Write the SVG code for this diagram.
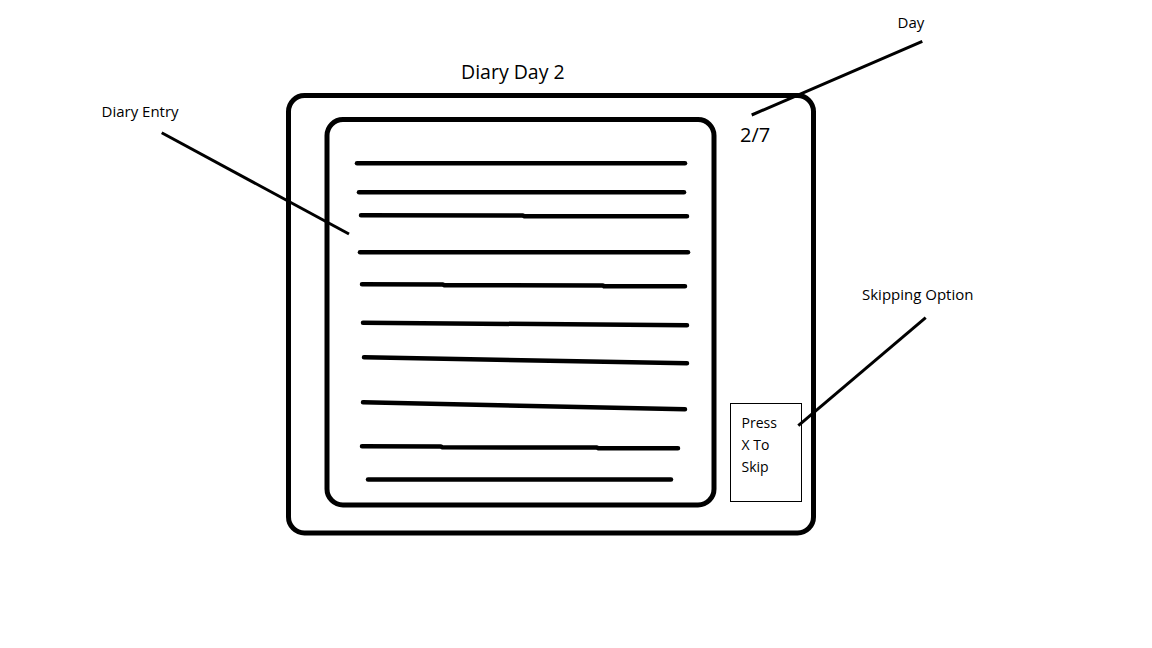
<svg xmlns="http://www.w3.org/2000/svg" width="1152" height="648" viewBox="0 0 1152 648">
<style>
text { font-family: "Open Sans", "Noto Sans", "Liberation Sans", sans-serif; fill: #000; }
.frame { fill: none; stroke: #000; stroke-width: 5; }
.rule { fill: none; stroke: #000; stroke-width: 4.5; stroke-linecap: round; stroke-linejoin: round; }
.leader { fill: none; stroke: #000; stroke-width: 3; }
.lbl { font-size: 15px; }
</style>
<rect width="1152" height="648" fill="#fff"/>
<g id="diary-frame">
  <rect class="frame" x="288.5" y="95.5" width="525" height="437.5" rx="16"/>
  <text x="461" y="78.5" style="font-size:19.5px">Diary Day 2</text>
</g>
<g id="diary-entry-panel">
  <rect class="frame" x="327" y="119.5" width="387" height="385.5" rx="16"/>
  <g id="entry-lines">
    <polyline class="rule" points="357,163.3 685,163.3"/>
    <polyline class="rule" points="359,192.3 684,192.3"/>
    <polyline class="rule" points="361,215.3 523,215.5 524,216.3 687,216.3"/>
    <polyline class="rule" points="360,252.3 688,252.3"/>
    <polyline class="rule" points="362,284.3 443,284.5 444,285.3 603,285.4 604,286.3 685,286.3"/>
    <polyline class="rule" points="363,322.7 687,325.3"/>
    <polyline class="rule" points="364,357.3 687,363.3"/>
    <polyline class="rule" points="363,402.3 685,409.3"/>
    <polyline class="rule" points="362,446.3 441,446.5 442,447.3 597,447.5 598,448.2 678,448.2"/>
    <polyline class="rule" points="368,479.5 671,479.5"/>
  </g>
</g>
<g id="day-counter">
  <text x="740" y="141.7" style="font-size:20px">2/7</text>
</g>
<g id="skip-box">
  <rect x="730.5" y="403.5" width="71" height="98" fill="none" stroke="#000" stroke-width="1"/>
  <text x="741.5" y="427.7" style="font-size:14px">Press</text>
  <text x="741.5" y="449.5" style="font-size:14px">X To</text>
  <text x="741.5" y="471.7" style="font-size:14px">Skip</text>
</g>
<g id="label-diary-entry">
  <text class="lbl" x="101.5" y="117.3">Diary Entry</text>
</g>
<g id="label-day">
  <text class="lbl" x="897.5" y="28.3">Day</text>
</g>
<g id="label-skipping-option">
  <text class="lbl" x="862" y="300">Skipping Option</text>
</g>
<g id="connectors">
  <line class="leader" x1="161.7" y1="132.7" x2="349" y2="234"/>
  <line class="leader" x1="751.7" y1="115" x2="922.3" y2="41.3"/>
  <line class="leader" x1="798.3" y1="425.7" x2="925.7" y2="317.7"/>
</g>
</svg>
